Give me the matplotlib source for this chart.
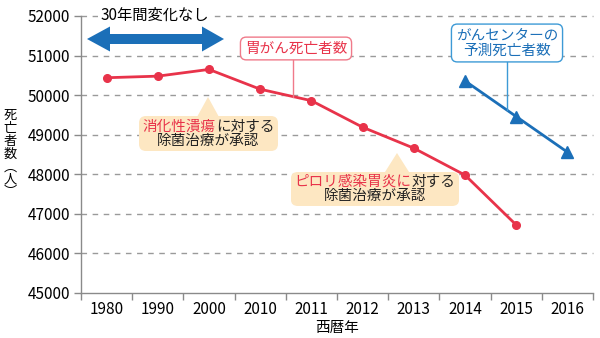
import matplotlib
matplotlib.use("Agg")
import matplotlib.pyplot as plt
from matplotlib.patches import Polygon
from matplotlib.transforms import IdentityTransform
from matplotlib.offsetbox import TextArea, HPacker, VPacker, AnnotationBbox

plt.rcParams['font.family'] = ['Noto Sans CJK JP', 'DejaVu Sans']

years = ['1980', '1990', '2000', '2010', '2011', '2012', '2013', '2014', '2015', '2016']
deaths_actual = [50440, 50480, 50650, 50150, 49860, 49190, 48660, 47980, 46720]
pred_years_idx = [7, 8, 9]
deaths_pred = [50360, 49460, 48560]
yticks = [45000, 46000, 47000, 48000, 49000, 50000, 51000, 52000]

RED = '#e8334a'
BLUE = '#1b6fb8'
LBLUE = '#3d9ad6'
BEIGE = '#fde7c2'
GRID = '#9a9a9a'
AX = '#8a8a8a'

W, H = 600, 338
fig = plt.figure(figsize=(W / 100, H / 100), dpi=100)
ax = fig.add_axes([81 / W, 1 - 293 / H, (593 - 81) / W, (293 - 16) / H])

ax.set_xlim(-0.5, len(years) - 0.5)
ax.set_ylim(yticks[0], yticks[-1])

for v in yticks[1:]:
    ax.axhline(v, color=GRID, lw=1.0, ls=(0, (4, 4)), zorder=0, clip_on=False)

x_act = list(range(len(deaths_actual)))
ax.plot(x_act, deaths_actual, color=RED, lw=2.0, marker='o', ms=5.5, zorder=4)
ax.plot(pred_years_idx, deaths_pred, color=BLUE, lw=2.0, marker='^', ms=8, zorder=4)

ax.set_xticks(range(len(years)))
ax.set_xticklabels(years, fontsize=11)
ax.set_xticks([i - 0.5 for i in range(len(years) + 1)], minor=True)
ax.tick_params(axis='x', which='major', length=0, pad=6)
ax.tick_params(axis='x', which='minor', length=5, color=AX, width=1)
ax.set_yticks(yticks)
ax.set_yticklabels([str(v) for v in yticks], fontsize=11)
ax.tick_params(axis='y', length=5, color=AX, width=1, pad=3)

for s in ['top', 'right']:
    ax.spines[s].set_visible(False)
for s in ['left', 'bottom']:
    ax.spines[s].set_color(AX)
    ax.spines[s].set_linewidth(1.0)

ax.set_xlabel('西暦年', fontsize=10.5, labelpad=2)

fig.text(10 / W, 1 - 154 / H, '死\n亡\n者\n数\n︵\n人\n︶', fontsize=9.5,
         ha='center', va='center', linespacing=0.98)

def px(x, y):
    return (x, H - y)

# double-headed arrow (pixel coordinates)
cy = 39
arrow = [px(87, cy), px(110, cy - 12.5), px(110, cy - 5), px(202, cy - 5),
         px(202, cy - 12.5), px(224, cy), px(202, cy + 12.5), px(202, cy + 5),
         px(110, cy + 5), px(110, cy + 12.5)]
fig.patches.append(Polygon(arrow, closed=True, facecolor=BLUE, edgecolor='none',
                           transform=IdentityTransform(), figure=fig))
fig.text(155 / W, 1 - 15 / H, '30年間変化なし', fontsize=11, ha='center', va='center',
         bbox=dict(boxstyle='square,pad=0.15', fc='white', ec='none'))

# pointer triangles for beige boxes
def pointer(tipx, tipy, basey, half):
    fig.patches.append(Polygon([px(tipx, tipy), px(tipx - half, basey + 2), px(tipx + half, basey + 2)],
                               closed=True, facecolor=BEIGE, edgecolor='none',
                               transform=IdentityTransform(), figure=fig, zorder=5))

pointer(208, 97, 115, 11)
pointer(397, 153, 170, 12)

def beige_box(cx, cy, red_part, black_part, line2):
    l1 = HPacker(children=[TextArea(red_part, textprops=dict(color=RED, fontsize=10.5)),
                           TextArea(black_part, textprops=dict(color='#222222', fontsize=10.5))],
                 align='baseline', pad=0, sep=0)
    l2 = TextArea(line2, textprops=dict(color='#222222', fontsize=10.5))
    vp = VPacker(children=[l1, l2], align='center', pad=0, sep=0)
    ab = AnnotationBbox(vp, (cx / W, 1 - cy / H), xycoords='figure fraction',
                        frameon=True, pad=0.25,
                        bboxprops=dict(boxstyle='round,pad=0.25,rounding_size=0.5',
                                       fc=BEIGE, ec='none'), zorder=6)
    ax.add_artist(ab)

beige_box(208.5, 133.5, '消化性潰瘍', 'に対する', '除菌治療が承認')
beige_box(375, 189, 'ピロリ感染胃炎に', '対する', '除菌治療が承認')

# labels with leader lines
fig.lines.append(plt.Line2D([293 / W, 293 / W], [1 - 58 / H, 1 - 97 / H],
                            color='#f07a8a', lw=1.0, transform=fig.transFigure))
fig.text(296 / W, 1 - 48.5 / H, '胃がん死亡者数', fontsize=10.5, color=RED,
         ha='center', va='center',
         bbox=dict(boxstyle='round,pad=0.3,rounding_size=0.4', fc='white', ec='#f07a8a', lw=1.0))

fig.lines.append(plt.Line2D([507 / W, 507 / W], [1 - 60 / H, 1 - 110 / H],
                            color=LBLUE, lw=1.0, transform=fig.transFigure))
fig.text(507 / W, 1 - 43 / H, 'がんセンターの\n予測死亡者数', fontsize=10.5, color=BLUE,
         ha='center', va='center', linespacing=1.1,
         bbox=dict(boxstyle='round,pad=0.3,rounding_size=0.4', fc='white', ec=LBLUE, lw=1.0))

fig.savefig('out.png', dpi=100)
